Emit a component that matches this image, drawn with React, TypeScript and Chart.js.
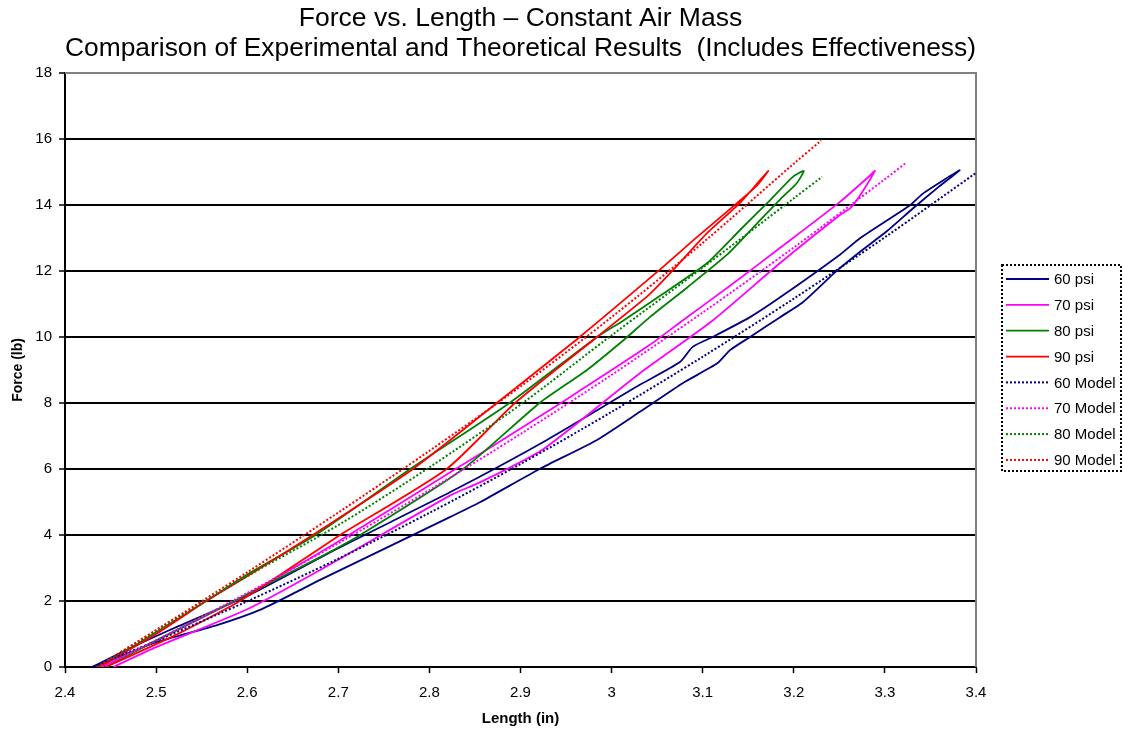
import React, { useEffect, useRef } from 'react';
import { Chart, registerables } from 'chart.js';

Chart.register(...registerables);

// ---------- data ----------
const xTickLabels = ['2.4', '2.5', '2.6', '2.7', '2.8', '2.9', '3', '3.1', '3.2', '3.3', '3.4'];
const yTickLabels = ['0', '2', '4', '6', '8', '10', '12', '14', '16', '18'];

const seriesLabels = ['60 psi', '70 psi', '80 psi', '90 psi', '60 Model', '70 Model', '80 Model', '90 Model'];

// Experimental loops (loading up, then unloading back down)
const psi60X = [2.430, 2.470, 2.515, 2.600, 2.700, 2.823, 2.929, 3.031, 3.075, 3.089, 3.111, 3.152, 3.185, 3.251, 3.273, 3.328, 3.342, 3.382,
  3.357, 3.331, 3.302, 3.269, 3.247, 3.210, 3.185, 3.152, 3.130, 3.116, 3.078, 3.031, 2.984, 2.921, 2.856, 2.823, 2.680, 2.658, 2.614, 2.567, 2.500, 2.450, 2.432];
const psi60Y = [0, 0.55, 1.12, 2.15, 3.6, 5.3, 6.88, 8.55, 9.24, 9.7, 10.0, 10.6, 11.2, 12.5, 13.0, 14.0, 14.35, 15.05,
  14.5, 13.9, 13.2, 12.5, 12.0, 11.05, 10.6, 10.0, 9.6, 9.2, 8.6, 7.73, 6.88, 6.0, 5.0, 4.55, 2.64, 2.33, 1.73, 1.27, 0.75, 0.2, 0];

const psi70X = [2.440, 2.500, 2.600, 2.700, 2.823, 2.863, 2.950, 3.042, 3.078, 3.130, 3.185, 3.251, 3.284, 3.289,
  3.273, 3.262, 3.251, 3.185, 3.111, 3.031, 2.925, 2.856, 2.823, 2.680, 2.600, 2.500, 2.453];
const psi70Y = [0, 0.8, 2.2, 3.8, 5.9, 6.58, 8.1, 9.76, 10.5, 11.55, 12.7, 14.1, 14.9, 15.03,
  14.3, 13.9, 13.7, 12.24, 10.5, 8.9, 6.6, 5.6, 5.2, 2.94, 1.75, 0.6, 0];

const psi80X = [2.438, 2.500, 2.555, 2.600, 2.675, 2.779, 2.888, 2.984, 3.013, 3.056, 3.105, 3.141, 3.171, 3.199, 3.211,
  3.203, 3.188, 3.160, 3.127, 3.083, 3.042, 3.013, 2.973, 2.921, 2.837, 2.724, 2.680, 2.600, 2.500, 2.445];
const psi80Y = [0, 1.05, 2.0, 2.8, 4.0, 6.0, 8.0, 10.0, 10.5, 11.3, 12.24, 13.24, 14.06, 14.85, 15.03,
  14.65, 14.25, 13.45, 12.5, 11.5, 10.6, 9.9, 9.0, 8.0, 6.0, 4.0, 3.33, 2.2, 0.8, 0];

const psi90X = [2.438, 2.500, 2.555, 2.600, 2.672, 2.782, 2.874, 2.965, 3.050, 3.094, 3.138, 3.160, 3.172,
  3.163, 3.141, 3.105, 3.070, 3.040, 2.984, 2.894, 2.819, 2.702, 2.680, 2.592, 2.520, 2.445];
const psi90Y = [0, 1.0, 2.0, 2.75, 4.0, 6.0, 8.0, 10.0, 11.97, 13.03, 14.06, 14.6, 15.03,
  14.75, 14.06, 13.15, 12.1, 11.25, 10.0, 8.0, 6.0, 4.0, 3.6, 2.0, 0.95, 0];

// Theoretical models
const model60X = [2.430, 2.5, 2.6, 2.7, 2.8, 2.9, 3.0, 3.1, 3.2, 3.3, 3.4];
const model60Y = [0, 0.79, 1.99, 3.28, 4.67, 6.15, 7.73, 9.40, 11.16, 13.02, 14.97];
const model70X = [2.440, 2.5, 2.6, 2.7, 2.8, 2.9, 3.0, 3.1, 3.2, 3.3, 3.323];
const model70Y = [0, 0.81, 2.24, 3.75, 5.36, 7.06, 8.85, 10.74, 12.71, 14.78, 15.27];
const model80X = [2.435, 2.5, 2.6, 2.7, 2.8, 2.9, 3.0, 3.1, 3.2, 3.231];
const model80Y = [0, 1.1, 2.75, 4.3, 6.05, 7.95, 10.05, 12.1, 14.2, 14.85];
const model90X = [2.435, 2.5, 2.6, 2.7, 2.8, 2.9, 3.0, 3.1, 3.2, 3.230];
const model90Y = [0, 1.12, 2.87, 4.68, 6.55, 8.5, 10.6, 12.85, 15.25, 15.95];

// ---------- styles ----------
const seriesColors = ['#000080', '#FF00FF', '#008000', '#FF0000', '#000080', '#FF00FF', '#008000', '#FF0000'];
const FONT = "'Liberation Sans', Arial, Helvetica, sans-serif";

const toPoints = (xs: number[], ys: number[]) => xs.map((x, i) => ({ x, y: ys[i] }));

const seriesData = [
  toPoints(psi60X, psi60Y),
  toPoints(psi70X, psi70Y),
  toPoints(psi80X, psi80Y),
  toPoints(psi90X, psi90Y),
  toPoints(model60X, model60Y),
  toPoints(model70X, model70Y),
  toPoints(model80X, model80Y),
  toPoints(model90X, model90Y),
];

const framePlugin = {
  id: 'plotFrame',
  beforeDatasetsDraw(chart: any) {
    const { ctx, chartArea: a } = chart;
    ctx.save();
    ctx.strokeStyle = '#808080';
    ctx.lineWidth = 2;
    ctx.beginPath();
    ctx.moveTo(a.left, a.top);
    ctx.lineTo(a.right, a.top);
    ctx.lineTo(a.right, a.bottom);
    ctx.stroke();
    ctx.restore();
  },
};

const legendPlugin = {
  id: 'boxLegend',
  afterDraw(chart: any) {
    const { ctx, chartArea: a } = chart;
    const boxLeft = a.right + 26;
    const boxTop = 265;
    const boxW = 119;
    const boxH = 206;
    ctx.save();
    ctx.fillStyle = '#fff';
    ctx.fillRect(boxLeft, boxTop, boxW, boxH);
    ctx.strokeStyle = '#000';
    ctx.lineWidth = 2;
    ctx.setLineDash([2, 2]);
    ctx.strokeRect(boxLeft, boxTop, boxW, boxH);
    const rowH = 25.85;
    chart.data.datasets.forEach((ds: any, i: number) => {
      const y = boxTop + 14 + i * rowH;
      ctx.strokeStyle = ds.borderColor;
      ctx.lineWidth = ds.borderWidth;
      ctx.setLineDash(ds.borderDash || []);
      ctx.beginPath();
      ctx.moveTo(boxLeft + 4, y);
      ctx.lineTo(boxLeft + 47, y);
      ctx.stroke();
      ctx.setLineDash([]);
      ctx.fillStyle = '#000';
      ctx.font = `15px ${FONT}`;
      ctx.textBaseline = 'middle';
      ctx.textAlign = 'left';
      ctx.fillText(ds.label, boxLeft + 52, y + 1);
    });
    ctx.restore();
  },
};

export default function App() {
  const ref = useRef<HTMLCanvasElement>(null);

  useEffect(() => {
    const canvas = ref.current;
    if (!canvas) return;
    const datasets = seriesData.map((pts, i) => {
      const isModel = i >= 4;
      return {
        label: seriesLabels[i],
        data: pts,
        showLine: true,
        borderColor: seriesColors[i],
        backgroundColor: seriesColors[i],
        borderWidth: isModel ? 2 : 1.8,
        borderDash: isModel ? [2, 2] : [],
        pointRadius: 0,
        pointHoverRadius: 0,
        tension: isModel ? 0.3 : 0.2,
        fill: false,
        order: 8 - i,
      };
    });

    const chart = new Chart(canvas, {
      type: 'scatter',
      data: { datasets },
      options: {
        responsive: false,
        animation: false,
        devicePixelRatio: 1,
        layout: { padding: { left: 0, right: 147, top: 0, bottom: 0 } },
        plugins: {
          legend: { display: false },
          tooltip: { enabled: false },
          title: {
            display: true,
            fullSize: false,
            text: [
              'Force vs. Length \u2013 Constant Air Mass',
              'Comparison of Experimental and Theoretical Results  (Includes Effectiveness)',
            ],
            color: '#000',
            font: { family: FONT, size: 26.5, weight: 'normal', lineHeight: 1.13 },
            padding: { top: 4, bottom: 9 },
          },
        },
        scales: {
          x: {
            type: 'linear',
            min: 2.4,
            max: 3.4,
            afterFit: (s: any) => { s.height = 67; },
            ticks: {
              stepSize: 0.1,
              autoSkip: false,
              maxRotation: 0,
              color: '#000',
              padding: 11,
              font: { family: FONT, size: 15 },
              callback: (v: any) => xTickLabels[Math.round((Number(v) - 2.4) * 10)] ?? '',
            },
            grid: {
              drawOnChartArea: false,
              drawTicks: true,
              tickLength: 6,
              tickColor: '#000',
              tickWidth: 1.5,
            },
            border: { color: '#000', width: 2 },
            title: {
              display: true,
              text: 'Length (in)',
              color: '#000',
              font: { family: FONT, size: 15, weight: 'bold' },
              padding: { top: 0, bottom: 6 },
            },
          },
          y: {
            type: 'linear',
            min: 0,
            max: 18,
            afterFit: (s: any) => { s.width = 65; },
            ticks: {
              stepSize: 2,
              color: '#000',
              padding: 7,
              font: { family: FONT, size: 15 },
              callback: (v: any) => yTickLabels[Math.round(Number(v) / 2)] ?? '',
            },
            grid: {
              color: (c: any) => (c.tick && c.tick.value === 18 ? 'rgba(0,0,0,0)' : '#000'),
              lineWidth: 2,
              drawTicks: true,
              tickLength: 6,
              tickColor: '#000',
              tickWidth: 1.5,
            },
            border: { color: '#000', width: 2 },
            title: {
              display: true,
              text: 'Force (lb)',
              color: '#000',
              font: { family: FONT, size: 14, weight: 'bold' },
              padding: { top: 10, bottom: 0 },
            },
          },
        },
      },
      plugins: [framePlugin, legendPlugin],
    } as any);

    return () => chart.destroy();
  }, []);

  return (
    <div style={{ position: 'fixed', left: 0, top: 0, width: 1123, height: 734, background: '#fff' }}>
      <canvas ref={ref} width={1123} height={734} style={{ display: 'block' }} />
    </div>
  );
}
